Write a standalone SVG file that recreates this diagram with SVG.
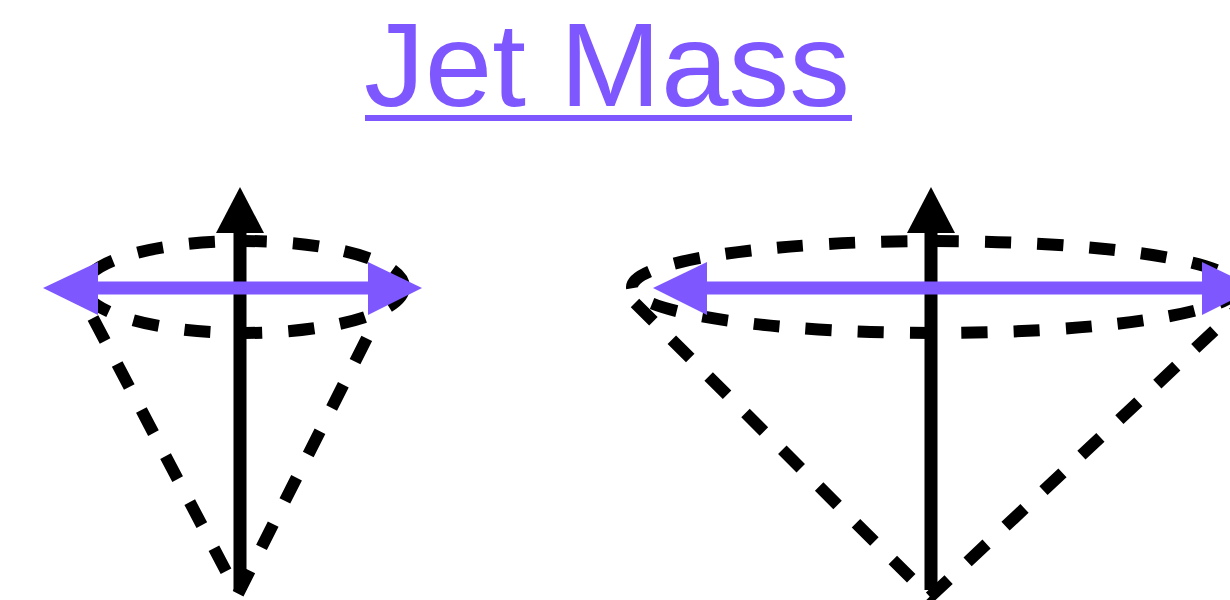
<svg xmlns="http://www.w3.org/2000/svg" width="1230" height="600" viewBox="0 0 1230 600">
<style>
.title{font-family:"Liberation Sans",Arial,Helvetica,sans-serif;font-size:119px;fill:#7E57FF}
.dash{fill:none;stroke:#000;stroke-width:12;stroke-dasharray:26 26}
.shaft{stroke:#000;stroke-width:13;fill:none}
.head{fill:#000}
.pshaft{stroke:#7E57FF;stroke-width:13;fill:none}
.phead{fill:#7E57FF}
</style>
<rect width="1230" height="600" fill="#fff"/>
<g id="title">
<text class="title" x="364" y="106" textLength="486" lengthAdjust="spacingAndGlyphs">Jet Mass</text>
<rect x="365" y="115" width="487" height="6" fill="#7E57FF"/>
</g>
<g id="jet-narrow">
<ellipse class="dash" cx="244" cy="287" rx="160" ry="46"/>
<path class="dash" d="M93 318 L238 594 L377 318"/>
<line class="shaft" x1="240" y1="590" x2="240" y2="228"/>
<polygon class="head" points="216,233 264,233 240,187"/>
<line class="pshaft" x1="95" y1="288" x2="372" y2="288"/>
<polygon class="phead" points="98,262 98,315 43,288"/>
<polygon class="phead" points="368,262 368,315 422,288"/>
</g>
<g id="jet-wide">
<ellipse class="dash" cx="935" cy="287" rx="303" ry="46"/>
<path class="dash" d="M635 303 L930 597 L1247 300"/>
<line class="shaft" x1="931" y1="590" x2="931" y2="228"/>
<polygon class="head" points="907,233 955,233 931,187"/>
<line class="pshaft" x1="703" y1="288" x2="1206" y2="288"/>
<polygon class="phead" points="707,262 707,315 653,288"/>
<polygon class="phead" points="1202,262 1202,315 1256,288"/>
</g>
</svg>
